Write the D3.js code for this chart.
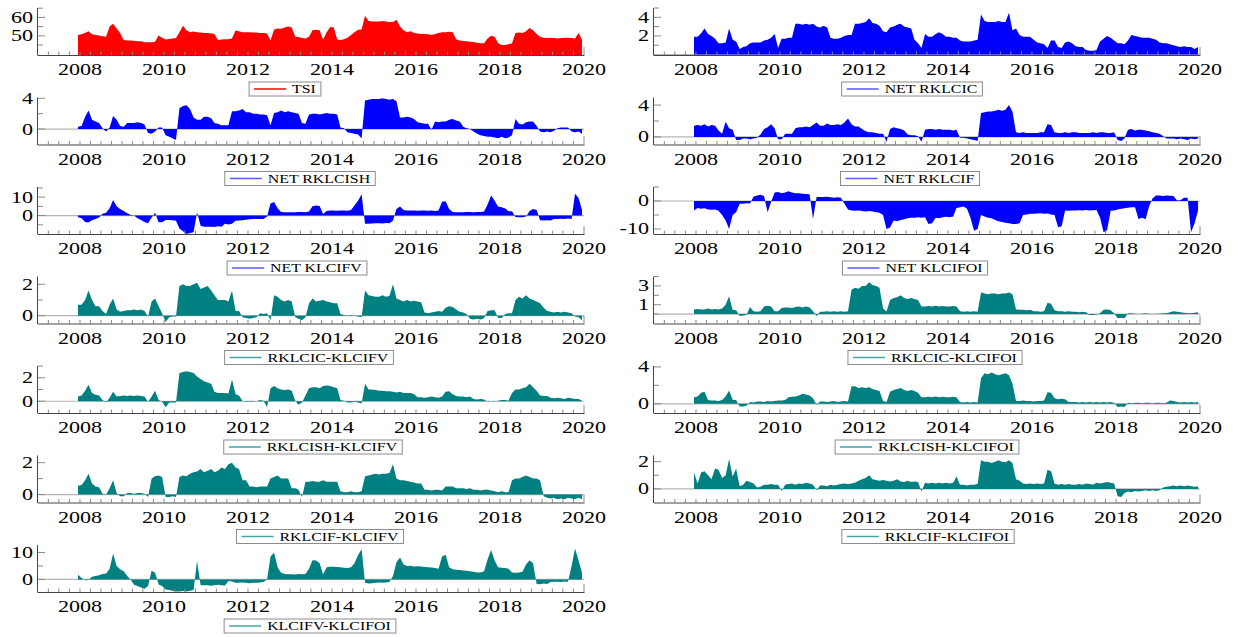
<!DOCTYPE html>
<html>
<head>
<meta charset="utf-8">
<script src="https://cdn.jsdelivr.net/npm/d3@7"></script>
<style>
    body { margin: 0; background: #fff; }
    svg text { font-family: "Liberation Serif", "Times New Roman", serif; fill: #000; }
</style>
</head>
<body>
<svg id="chart"></svg>
<script>
// monthly readings, Dec 2007 then Jan..Dec 2008 .. 2019
const tsi = [50.5,
    50.8, 51.5, 52.5, 50.8, 50.5, 50.2, 49.8, 49.5, 55.0, 56.5, 54.0, 51.5,
    47.8, 47.5, 47.5, 47.3, 47.0, 47.0, 46.5, 46.5, 46.5, 46.8, 50.2, 49.0,
    48.0, 48.3, 48.6, 48.8, 52.0, 55.5, 53.0, 52.0, 52.4, 52.0, 51.8, 51.5,
    51.5, 51.3, 51.0, 47.8, 48.0, 48.2, 48.2, 48.5, 52.9, 52.5, 52.0, 52.0,
    52.0, 51.8, 51.8, 51.5, 51.5, 51.3, 47.5, 53.5, 54.0, 53.8, 54.5, 55.0,
    54.5, 49.5, 49.3, 48.8, 48.5, 49.5, 53.0, 53.3, 53.0, 48.0, 52.0, 54.7,
    54.7, 48.0, 47.8, 48.2, 49.0, 50.5, 52.0, 53.3, 53.5, 60.9, 58.0, 57.8,
    57.8, 57.8, 58.0, 57.8, 57.5, 57.5, 58.7, 55.0, 53.0, 52.0, 52.5, 51.5,
    51.2, 51.0, 51.0, 50.8, 50.5, 51.0, 51.5, 52.0, 52.0, 52.2, 52.0, 48.2,
    47.5, 47.2, 47.0, 46.8, 46.6, 46.2, 46.0, 46.0, 48.5, 50.0, 49.5, 46.0,
    45.0, 45.0, 45.5, 46.0, 51.5, 51.8, 51.5, 52.5, 54.2, 53.0, 51.0, 49.5,
    49.0, 48.8, 49.0, 48.8, 48.5, 48.8, 49.0, 49.0, 48.8, 48.5, 51.5, 47.8];

const netRklcic = [1.9,
    1.9, 2.3, 2.8, 2.2, 2.0, 1.7, 1.2, 1.2, 1.3, 2.8, 1.6, 1.4,
    0.6, 0.8, 0.9, 1.2, 1.3, 1.3, 1.3, 1.5, 1.6, 1.8, 2.2, 0.7,
    1.7, 1.7, 1.8, 1.8, 3.3, 3.3, 3.2, 3.3, 3.2, 3.3, 3.0, 2.9,
    3.1, 2.9, 1.8, 1.7, 1.7, 1.8, 2.0, 2.1, 2.1, 3.3, 3.3, 3.4,
    3.5, 3.9, 3.4, 3.3, 3.1, 2.5, 2.4, 2.9, 3.0, 3.2, 3.3, 3.0,
    2.9, 2.8, 1.6, 1.2, 0.7, 2.2, 1.9, 1.9, 2.2, 2.4, 2.2, 1.9,
    1.9, 1.8, 1.8, 1.5, 1.4, 1.4, 1.4, 1.5, 1.6, 4.3, 3.6, 3.5,
    3.5, 3.5, 3.6, 3.5, 3.5, 4.5, 2.6, 2.8, 2.1, 1.9, 1.9, 1.9,
    1.6, 1.3, 1.2, 1.1, 0.7, 1.5, 1.5, 0.8, 0.7, 1.3, 1.4, 1.2,
    0.9, 0.8, 0.8, 0.5, 0.4, 0.4, 0.5, 1.4, 1.7, 2.0, 1.8, 1.5,
    1.2, 1.2, 1.1, 1.5, 2.1, 2.0, 1.9, 1.8, 1.8, 1.8, 1.7, 1.6,
    1.3, 1.2, 1.2, 1.1, 1.0, 0.9, 0.8, 0.9, 0.8, 0.8, 0.6, 0.8];

const netRklcish = [0.3,
    0.4, 1.6, 2.4, 1.2, 1.0, 0.8, 0.1, -0.3, 0.2, 1.7, 1.2, 0.4,
    0.3, 0.8, 0.8, 0.8, 0.9, 0.8, 0.6, -0.5, -0.6, -0.3, 0.2, 0.2,
    -0.8, -1.0, -1.2, -1.4, 2.7, 3.0, 3.1, 2.6, 1.5, 1.2, 1.2, 1.6,
    1.6, 1.4, 0.8, 0.7, 0.5, 0.5, 0.5, 2.3, 2.3, 2.4, 2.6, 2.2,
    2.2, 2.0, 2.0, 1.9, 1.9, 1.8, 0.5, 2.1, 2.2, 2.4, 2.2, 2.3,
    2.2, 2.1, 2.0, 0.8, 0.7, 1.9, 2.0, 2.0, 1.9, 2.0, 2.1, 2.0,
    2.0, 1.9, 0.2, 0.1, -0.4, -0.5, -0.6, -0.7, -1.2, 3.7, 3.8, 3.9,
    3.9, 3.9, 4.0, 3.9, 3.8, 3.9, 3.6, 1.5, 1.5, 1.6, 1.5, 1.3,
    0.9, 0.8, 0.7, 0.7, -0.1, 1.0, 0.9, 1.0, 1.0, 1.2, 1.3, 1.1,
    1.0, 0.3, 0.1, 0.0, -0.3, -0.6, -0.8, -0.9, -1.0, -1.0, -1.1, -1.2,
    -1.0, -1.2, -1.1, -0.8, 1.3, 0.7, 0.6, 0.9, 1.0, 1.0, 0.4, -0.3,
    -0.4, -0.3, -0.4, -0.2, 0.1, 0.2, 0.2, 0.2, -0.3, -0.4, -0.3, -0.6];

const netRklcif = [1.4,
    1.5, 1.4, 1.6, 1.3, 1.5, 1.4, 0.8, 0.4, 1.9, 1.1, 0.9, -0.4,
    -0.4, -0.2, -0.2, -0.3, -0.2, -0.1, 0.3, 1.0, 1.2, 1.6, 1.1, -0.3,
    -0.3, 0.4, 0.4, 0.4, 1.1, 1.2, 1.2, 1.3, 1.2, 1.5, 1.8, 1.4,
    1.4, 1.7, 1.5, 1.5, 1.6, 1.5, 1.8, 2.3, 1.6, 1.3, 1.3, 1.0,
    0.7, 0.6, 0.6, 0.5, 0.4, 0.4, -0.6, 1.0, 1.2, 1.1, 1.0, 0.8,
    0.3, 0.2, 0.2, 0.1, -0.6, 0.9, 1.0, 1.0, 0.9, 1.0, 0.9, 0.9,
    0.9, 0.8, 0.9, -0.1, -0.1, -0.2, -0.3, -0.4, -0.5, 3.0, 3.1, 3.2,
    3.2, 3.3, 3.4, 3.3, 3.4, 4.0, 3.2, 0.6, 0.5, 0.6, 0.5, 0.5,
    0.5, 0.5, 0.6, 0.6, 1.6, 1.5, 0.6, 0.5, 0.5, 0.6, 0.5, 0.6,
    0.6, 0.5, 0.5, 0.5, 0.5, 0.6, 0.5, 0.6, 0.6, 0.5, 0.5, 0.6,
    -0.4, -0.5, -0.2, 0.9, 1.0, 0.8, 0.9, 0.9, 0.8, 0.7, 0.6, 0.5,
    0.4, 0.1, -0.2, -0.2, -0.2, -0.3, -0.2, -0.3, -0.4, -0.2, -0.3, -0.2];

const netKlcifv = [-0.9,
    -1.5, -3.5, -3.8, -2.5, -1.8, -1.0, 1.0, 1.5, 4.0, 8.5, 5.0, 3.6,
    2.5, 1.3, 0.5, 0.0, -1.5, -2.4, -3.5, -4.2, -1.0, 1.5, -3.6, -3.6,
    -2.4, -2.4, -2.6, -2.8, -7.0, -8.5, -10.0, -9.5, -9.0, 1.8, -5.5, -6.0,
    -6.0, -6.0, -6.2, -5.8, -6.0, -4.5, -4.8, -4.5, -2.8, -2.7, -2.5, -2.3,
    -2.0, -1.9, -1.8, -1.8, -1.8, -0.5, 6.5, 7.3, 4.0, 2.0, 1.8, 1.8,
    1.8, 1.8, 1.9, 2.0, 1.8, 2.2, 5.0, 5.5, 5.2, 0.9, 2.5, 2.7,
    2.7, 2.6, 2.8, 2.7, 2.6, 3.0, 5.5, 8.0, 11.5, -4.5, -4.4, -4.3,
    -4.2, -4.2, -4.3, -4.0, -4.2, -2.7, 3.5, 4.9, 3.0, 2.8, 2.7, 2.7,
    2.6, 2.7, 2.7, 2.6, 2.7, 2.5, 2.7, 7.5, 7.8, 3.5, 2.0, 1.8,
    1.8, 1.8, 1.9, 1.9, 1.8, 1.9, 1.9, 2.2, 6.0, 10.9, 8.0, 4.9,
    4.5, 3.8, 2.4, 2.4, -0.8, -0.9, -0.9, -0.5, 2.5, 3.6, 3.0, -2.5,
    -2.7, -2.6, -2.7, -1.8, -1.8, -1.7, -1.8, -1.6, -1.8, 11.8, 9.5, 3.0];

const netKlcifoi = [-3.4,
    -2.5, -2.8, -2.6, -3.0, -3.1, -3.0, -3.5, -5.0, -7.0, -10.0, -5.0, -4.0,
    -1.0, -1.0, -0.8, -0.9, 1.5, 2.0, 2.2, 1.8, -4.0, -0.4, 3.0, 3.2,
    2.8, 3.0, 3.5, 3.0, 2.8, 2.8, 2.6, 2.5, 2.4, -6.4, 1.4, 1.4,
    1.4, 1.5, 1.3, 1.2, 1.3, 1.2, -1.0, -3.0, -3.4, -3.5, -3.4, -3.6,
    -3.8, -3.6, -3.8, -4.0, -4.2, -5.0, -10.0, -9.5, -7.0, -7.2, -6.8, -6.5,
    -6.2, -6.0, -6.0, -5.8, -6.0, -5.8, -8.2, -8.0, -6.0, -6.2, -5.8, -5.6,
    -5.8, -5.5, -2.5, -2.2, -2.0, -2.8, -6.0, -10.6, -10.0, -5.0, -5.5, -6.0,
    -6.2, -6.8, -7.2, -7.5, -7.8, -8.0, -8.2, -8.2, -8.0, -5.0, -4.8, -4.6,
    -4.6, -4.5, -4.4, -4.6, -4.5, -4.8, -5.0, -9.4, -9.0, -3.4, -3.5, -3.4,
    -3.4, -3.3, -3.4, -3.2, -3.4, -3.3, -3.2, -6.0, -11.2, -10.5, -3.5, -3.4,
    -3.0, -2.8, -2.6, -2.4, -2.2, -2.2, -6.4, -6.0, -6.5, -2.0, 1.0, 2.0,
    2.0, 1.8, 2.0, 1.9, 1.8, 0.2, 0.3, 1.2, 1.2, -11.2, -8.0, -3.4];

const rklcicKlcifv = [0.7,
    0.7, 1.0, 1.6, 1.0, 0.6, 0.6, 0.3, 0.1, 0.7, 1.1, 0.4, 0.25,
    0.3, 0.35, 0.35, 0.4, 0.35, 0.4, 0.3, -0.05, 0.9, 1.1, 0.6, 0.15,
    -0.4, -0.1, -0.05, -0.05, 1.9, 2.0, 1.9, 1.9, 2.0, 2.1, 1.7, 1.8,
    1.9, 1.6, 1.3, 1.0, 1.0, 1.0, 0.9, 1.6, 0.3, 0.3, -0.1, -0.15,
    -0.2, -0.15, -0.1, 0.15, 0.1, 0.15, -0.3, 1.3, 1.2, 1.0, 0.9, 1.0,
    0.9, -0.1, -0.2, -0.3, -0.1, 0.8, 1.1, 0.9, 0.95, 1.0, 0.9, 0.85,
    0.8, 0.8, 0.1, 0.05, 0.0, 0.05, 0.0, -0.05, -0.1, 1.6, 1.3, 1.25,
    1.2, 1.2, 1.3, 1.2, 1.25, 2.0, 1.1, 1.0, 0.9, 1.0, 0.9, 0.95,
    0.9, 0.85, 0.2, 0.15, 0.2, 0.25, 0.3, 0.25, 0.5, 0.6, 0.55, 0.4,
    0.25, 0.2, 0.1, -0.2, -0.25, -0.2, -0.25, -0.15, 0.3, 0.35, 0.35, -0.15,
    -0.15, 0.1, 0.15, 0.15, 1.0, 1.2, 1.1, 1.3, 1.1, 1.0, 0.9, 0.8,
    0.5, 0.3, 0.25, 0.2, 0.25, 0.2, 0.25, 0.2, 0.15, -0.05, -0.1, -0.3];

const rklcishKlcifv = [0.4,
    0.5, 0.9, 1.4, 0.7, 0.55, 0.5, 0.1, -0.1, 0.3, 0.8, 0.4, 0.45,
    0.5, 0.45, 0.5, 0.45, 0.5, 0.45, 0.4, -0.05, 0.4, 0.9, 0.1, -0.05,
    -0.5, -0.1, -0.1, -0.1, 2.4, 2.5, 2.55, 2.5, 2.4, 2.1, 1.9, 1.7,
    1.6, 1.5, 0.8, 0.7, 0.7, 0.7, 0.65, 1.85, 0.6, 0.5, 0.0, -0.05,
    -0.05, -0.05, 0.0, 0.1, 0.05, -0.5, 1.1, 1.3, 1.1, 1.0, 0.95, 1.0,
    0.9, 0.05, -0.3, -0.1, 0.5, 1.1, 1.2, 1.2, 1.1, 1.3, 1.35, 1.3,
    1.2, 1.1, 0.1, 0.05, -0.1, -0.1, -0.05, -0.1, -0.2, 1.5, 1.0, 1.0,
    0.95, 0.9, 0.9, 0.85, 0.85, 0.8, 0.75, 0.8, 0.7, 0.7, 0.7, 0.6,
    0.35, 0.35, 0.3, 0.35, 0.4, 0.35, 0.3, 0.4, 0.8, 0.85, 0.6, 0.45,
    0.4, 0.4, 0.35, 0.4, 0.2, 0.15, 0.2, 0.15, -0.05, 0.0, -0.05, 0.05,
    0.1, 0.1, 0.05, 0.7, 1.0, 1.0, 1.1, 1.2, 1.5, 1.2, 0.9, 0.5,
    0.45, 0.45, 0.3, 0.25, 0.3, 0.25, 0.2, 0.3, 0.25, 0.2, 0.2, 0.05];

const rklcifKlcifv = [0.55,
    0.6, 0.9, 1.3, 0.7, 0.5, 0.45, 0.05, 0.0, 0.4, 0.9, 0.1, -0.1,
    -0.1, 0.1, 0.1, 0.05, 0.1, 0.1, 0.05, -0.15, 1.0, 1.15, 1.2, 1.1,
    -0.15, -0.15, -0.1, -0.15, 1.1, 1.2, 1.15, 1.3, 1.4, 1.45, 1.6, 1.4,
    1.5, 1.6, 1.4, 1.5, 1.7, 1.6, 1.9, 2.0, 1.7, 1.6, 0.9, 0.9,
    0.5, 0.5, 0.45, 0.5, 0.5, 0.5, 1.0, 1.1, 1.2, 1.0, 1.0, 1.0,
    0.4, 0.4, 0.3, -0.15, 0.8, 0.8, 0.85, 0.8, 0.8, 0.9, 0.8, 0.8,
    0.8, 0.8, 0.2, 0.15, 0.15, 0.2, 0.15, 0.15, 0.2, 1.15, 1.2, 1.25,
    1.3, 1.25, 1.3, 1.3, 1.35, 1.9, 1.0, 0.9, 0.9, 0.85, 0.8, 0.75,
    0.7, 0.7, 0.3, 0.3, 0.25, 0.3, 0.3, 0.25, 0.5, 0.5, 0.5, 0.4,
    0.4, 0.4, 0.35, 0.4, 0.3, 0.3, 0.25, 0.3, 0.3, 0.25, 0.2, 0.15,
    0.2, 0.15, 0.15, 0.9, 1.0, 1.0, 1.1, 1.2, 1.1, 1.0, 1.0, 0.9,
    -0.1, -0.2, -0.25, -0.2, -0.3, -0.25, -0.3, -0.2, -0.25, -0.3, -0.2, -0.3];

const klcifvKlcifoi = [1.7,
    0.5, -0.3, -0.2, 1.0, 1.3, 1.5, 2.0, 2.2, 4.0, 9.6, 5.0, 3.8,
    3.0, 1.3, 0.0, -2.0, -2.5, -3.0, -3.5, -2.5, 3.2, 2.5, -1.9, -2.5,
    -3.8, -4.0, -4.2, -4.5, -4.5, -4.3, -4.5, -4.2, -4.0, 6.8, -2.2, -2.2,
    -2.2, -2.4, -2.2, -2.0, -2.2, -2.3, -0.6, -0.8, -1.3, -1.3, -1.2, -1.3,
    -1.4, -1.3, -1.3, -1.2, -1.0, 0.0, 8.5, 9.9, 4.5, 2.5, 2.0, 1.9,
    1.9, 1.8, 2.0, 1.9, 2.0, 4.0, 7.1, 7.0, 6.0, 1.9, 4.5, 4.7,
    4.7, 4.6, 4.5, 4.3, 4.2, 4.5, 6.0, 9.0, 11.2, -1.3, -1.5, -1.4,
    -1.3, -1.2, -1.3, -1.2, -1.0, 1.3, 6.4, 8.1, 5.5, 5.0, 5.1, 4.8,
    4.9, 4.8, 4.6, 4.5, 4.4, 4.2, 4.0, 8.5, 9.2, 4.5, 3.8, 3.6,
    3.5, 3.3, 3.2, 3.0, 2.8, 2.6, 2.6, 3.0, 7.5, 10.9, 7.0, 4.5,
    4.3, 4.2, 4.0, 2.6, 2.5, 2.6, 2.8, 5.5, 7.1, 6.0, -1.7, -1.8,
    -1.5, -1.7, -1.0, -0.9, -0.9, -1.0, -0.8, -0.9, 5.0, 11.5, 7.0, 2.5];

const rklcicKlcifoi = [0.5,
    0.55, 0.5, 0.5, 0.6, 0.5, 0.55, 0.5, 0.6, 1.0, 1.9, 0.45, 0.4,
    -0.2, -0.15, -0.1, 0.75, 0.3, 0.25, 0.3, 0.8, 0.9, 0.8, 0.3, 0.3,
    0.65, 0.7, 0.7, 0.65, 0.75, 0.8, 0.7, 0.8, 0.7, 0.3, -0.2, 0.25,
    0.25, 0.3, 0.25, 0.3, 0.25, 0.3, 0.25, 0.3, 2.6, 2.8, 2.7, 3.0,
    3.0, 3.4, 3.1, 3.0, 2.8, 0.6, 0.27, 1.5, 1.7, 1.8, 2.0, 1.7,
    1.6, 1.7, 1.6, 1.5, 0.8, 0.8, 0.85, 0.8, 0.9, 0.8, 0.85, 0.8,
    0.8, 0.85, 0.8, 0.3, 0.25, 0.3, 0.25, 0.3, 0.25, 2.3, 2.2, 2.1,
    2.2, 2.2, 2.1, 2.2, 2.2, 2.3, 2.1, 0.5, 0.45, 0.45, 0.4, 0.45,
    0.3, 0.3, 0.25, 0.3, 1.2, 1.1, 0.4, 0.3, 0.3, 0.25, 0.3, 0.25,
    0.25, 0.2, 0.25, 0.2, -0.1, -0.1, -0.05, 0.1, 0.45, 0.5, 0.4, 0.1,
    -0.45, -0.4, -0.45, 0.1, 0.1, 0.05, 0.0, 0.05, 0.1, 0.05, 0.0, 0.05,
    0.05, 0.1, 0.1, 0.2, 0.3, 0.25, 0.2, 0.15, 0.1, 0.1, 0.15, 0.2];

const rklcishKlcifoi = [0.7,
    0.8, 1.2, 1.3, 0.4, 0.35, 0.35, 0.3, 0.4, 0.8, 1.45, 0.45, 0.4,
    -0.3, -0.3, -0.2, 0.2, 0.15, 0.25, 0.25, 0.2, 0.3, 0.25, 0.3, 0.35,
    0.35, 0.4, 0.7, 0.75, 0.8, 0.9, 1.1, 1.0, 0.9, 0.6, -0.1, 0.25,
    0.25, 0.2, 0.25, 0.3, 0.2, 0.25, 0.3, 0.25, 1.9, 1.9, 1.7, 1.8,
    1.7, 1.8, 1.6, 1.5, 1.4, 0.3, 0.2, 1.3, 1.5, 1.6, 1.7, 1.5,
    1.4, 1.5, 1.4, 1.2, 0.7, 0.7, 0.75, 0.7, 0.8, 0.7, 0.75, 0.7,
    0.7, 0.75, 0.7, 0.2, 0.15, 0.2, 0.15, 0.2, 0.15, 2.8, 3.3, 3.2,
    3.4, 3.2, 3.1, 3.2, 3.3, 3.1, 2.2, 0.3, 0.3, 0.35, 0.3, 0.3,
    0.25, 0.3, 0.3, 0.35, 1.25, 1.2, 0.6, 0.5, 0.55, 0.5, 0.2, 0.2,
    0.2, 0.15, 0.2, 0.15, 0.2, 0.15, 0.2, 0.15, 0.2, 0.15, 0.2, 0.1,
    -0.35, -0.3, -0.35, 0.1, 0.05, 0.1, 0.1, 0.05, 0.1, 0.1, 0.05, 0.1,
    0.1, 0.05, 0.1, 0.35, 0.3, 0.2, 0.15, 0.2, 0.15, 0.2, 0.15, 0.2];

const rklcifKlcifoi = [1.2,
    0.4, 1.2, 1.3, 1.0, 0.7, 1.5, 1.4, 0.8, 1.0, 2.2, 0.9, 1.5,
    0.2, 0.3, 0.6, 0.5, 0.4, 0.1, 0.15, 0.3, 0.3, 0.35, 0.3, 0.3,
    -0.15, 0.3, 0.35, 0.4, 0.3, 0.4, 0.35, 0.45, 0.4, 0.3, -0.1, 0.25,
    0.25, 0.2, 0.3, 0.25, 0.3, 0.35, 0.4, 0.35, 0.4, 0.45, 0.6, 0.7,
    0.8, 1.0, 0.7, 0.65, 0.6, 0.65, 0.6, 0.55, 0.6, 0.7, 0.55, 0.5,
    0.6, 0.5, 0.55, 0.5, -0.2, 0.45, 0.4, 0.45, 0.4, 0.45, 0.4, 0.45,
    0.4, 0.45, 0.9, 0.3, 0.3, 0.25, 0.3, 0.3, 0.35, 2.1, 2.0, 2.0,
    1.9, 2.0, 2.1, 2.0, 1.95, 2.1, 1.9, 0.7, 0.6, 0.4, 0.35, 0.4,
    0.35, 0.4, 0.35, 0.4, 1.4, 1.3, 0.4, 0.3, 0.35, 0.3, 0.35, 0.3,
    0.3, 0.35, 0.3, 0.4, 0.35, 0.3, 0.45, 0.4, 0.45, 0.5, 0.45, 0.4,
    -0.55, -0.6, -0.3, -0.2, -0.25, -0.15, -0.2, -0.15, -0.1, -0.15, -0.1, -0.15,
    -0.1, 0.1, 0.15, 0.2, 0.25, 0.2, 0.25, 0.2, 0.25, 0.2, 0.15, 0.2];

const yearLabels = [2008, 2010, 2012, 2014, 2016, 2018, 2020];

const colours = {
    red:  { fill: "#ff0000", key: "#ff0000" },
    blue: { fill: "#0000ff", key: "#5a5aff" },
    teal: { fill: "#008080", key: "#45a3a3" }
};

// col, row, name, values, colour, y domain, labelled ticks, small ticks
const panels = [
    [0, 0, "TSI", tsi, "red", [39.6, 65.1], [50, 60], [45, 55, 65]],
    [0, 1, "NET RKLCISH", netRklcish, "blue", [-2, 4.1], [0, 4], [2]],
    [0, 2, "NET KLCIFV", netKlcifv, "blue", [-10, 15.5], [0, 10], [-5, 5, 15]],
    [0, 3, "RKLCIC-KLCIFV", rklcicKlcifv, "teal", [-0.5, 2.5], [0, 2], [1]],
    [0, 4, "RKLCISH-KLCIFV", rklcishKlcifv, "teal", [-1, 3], [0, 2], [1, 3]],
    [0, 5, "RKLCIF-KLCIFV", rklcifKlcifv, "teal", [-0.5, 2.45], [0, 2], [1]],
    [0, 6, "KLCIFV-KLCIFOI", klcifvKlcifoi, "teal", [-4.7, 12.8], [0, 10], [5]],
    [1, 0, "NET RKLCIC", netRklcic, "blue", [-0.05, 5], [2, 4], [1, 3, 5]],
    [1, 1, "NET RKLCIF", netRklcif, "blue", [-0.95, 4.95], [0, 4], [2]],
    [1, 2, "NET KLCIFOI", netKlcifoi, "blue", [-11.8, 5], [-10, 0], [-5, 5]],
    [1, 3, "RKLCIC-KLCIFOI", rklcicKlcifoi, "teal", [-1, 4], [1, 3], [0, 2, 4]],
    [1, 4, "RKLCISH-KLCIFOI", rklcishKlcifoi, "teal", [-1, 4.1], [0, 4], [2]],
    [1, 5, "RKLCIF-KLCIFOI", rklcifKlcifoi, "teal", [-1, 2.45], [0, 2], [1]]
];

// centre of each key box, in panel order
const keyCentres = [285, 300, 297, 309, 313, 320, 310, 912, 910, 915, 935, 927, 928];

const months = d3.timeMonth.range(new Date(2007, 11, 1), new Date(2020, 0, 1))
    .map(d => d3.timeDay.offset(d, 14));

const stretch = 1.38;

class AreaPanel {
    layout = {
        colLeft: [38, 654], width: 546, height: 47,
        firstBottom: 55, rowStep: 89.5
    }

    constructor(svg, spec, index) {
        this.svg = svg;
        [this.col, this.row, this.name, this.values, this.colour,
            this.domain, this.major, this.minor] = spec;
        this.index = index;
    }

    draw() {
        const L = this.layout;
        const left = L.colLeft[this.col];
        const right = left + L.width;
        const bottom = L.firstBottom + L.rowStep * this.row;
        const g = this.svg.append("g");

        const x = d3.scaleTime()
            .domain([new Date(2007, 0, 1), new Date(2020, 0, 1)])
            .range([left, right]);
        const y = d3.scaleLinear()
            .domain(this.domain)
            .range([bottom, bottom - L.height]);

        const zero = Math.max(this.domain[0], Math.min(this.domain[1], 0));

        g.append("clipPath").attr("id", "clip" + this.index)
            .append("rect")
            .attr("x", left).attr("y", y(this.domain[1]))
            .attr("width", L.width).attr("height", L.height);

        if (this.domain[0] < 0) {
            g.append("line")
                .attr("x1", left).attr("x2", right)
                .attr("y1", y(0)).attr("y2", y(0))
                .attr("stroke", "#b4b4b4").attr("stroke-width", 1.2);
        }

        const area = d3.area()
            .x((d, i) => x(months[i]))
            .y0(y(zero))
            .y1(d => y(d));

        g.append("path")
            .datum(this.values)
            .attr("d", area)
            .attr("fill", colours[this.colour].fill)
            .attr("clip-path", `url(#clip${this.index})`);

        // x axis with quarterly ticks
        g.append("g")
            .selectAll("line")
            .data(d3.timeMonth.every(3).range(new Date(2007, 3, 1), new Date(2020, 0, 1)))
            .join("line")
            .attr("x1", d => x(d)).attr("x2", d => x(d))
            .attr("y1", bottom).attr("y2", bottom - 3.5)
            .attr("stroke", "#8a8a8a");

        g.append("line")
            .attr("x1", right).attr("x2", right)
            .attr("y1", bottom).attr("y2", bottom - 8)
            .attr("stroke", "#8a8a8a");

        g.append("line")
            .attr("x1", left).attr("x2", right + 0.5)
            .attr("y1", bottom + 0.5).attr("y2", bottom + 0.5)
            .attr("stroke", "#444");

        g.append("g")
            .selectAll("text")
            .data(yearLabels)
            .join("text")
            .attr("transform", d => `translate(${x(new Date(d, 0, 1))}, ${bottom + 20}) scale(${stretch}, 1)`)
            .attr("text-anchor", "middle")
            .attr("font-size", "16px")
            .text(d => d);

        // y axis
        g.append("line")
            .attr("x1", left - 0.5).attr("x2", left - 0.5)
            .attr("y1", bottom + 0.5).attr("y2", y(this.domain[1]))
            .attr("stroke", "#444");

        g.append("g")
            .selectAll("line")
            .data(this.minor)
            .join("line")
            .attr("x1", left).attr("x2", left + 5)
            .attr("y1", d => y(d)).attr("y2", d => y(d))
            .attr("stroke", "#8a8a8a");

        g.append("g")
            .selectAll("line")
            .data(this.major)
            .join("line")
            .attr("x1", left).attr("x2", left + 7)
            .attr("y1", d => y(d)).attr("y2", d => y(d))
            .attr("stroke", "#8a8a8a");

        g.append("g")
            .selectAll("text")
            .data(this.major)
            .join("text")
            .attr("transform", d => `translate(${left - 5}, ${y(d) + 5.5}) scale(${stretch}, 1)`)
            .attr("text-anchor", "end")
            .attr("font-size", "16px")
            .text(d => d);

        // key box under the panel
        const key = g.append("g")
            .attr("transform", `translate(${keyCentres[this.index]}, ${bottom + 34})`);
        const box = key.append("rect");
        const label = key.append("text")
            .attr("font-size", "11.5px")
            .text(this.name);
        const textW = label.node().getComputedTextLength() * stretch;
        const boxW = 5 + 32 + 6 + textW + 5;
        const x0 = -boxW / 2;

        box.attr("x", x0).attr("y", -7)
            .attr("width", boxW).attr("height", 14)
            .attr("fill", "#fff")
            .attr("stroke", "#8c8c8c");

        key.append("line")
            .attr("x1", x0 + 5).attr("x2", x0 + 37)
            .attr("y1", 0).attr("y2", 0)
            .attr("stroke", colours[this.colour].key)
            .attr("stroke-width", 1.5);

        label.attr("transform", `translate(${x0 + 43}, 4) scale(${stretch}, 1)`);
    }
}

const svg = d3.select("#chart")
    .attr("width", 1243)
    .attr("height", 637);

panels.forEach((spec, i) => new AreaPanel(svg, spec, i).draw());
</script>
</body>
</html>
